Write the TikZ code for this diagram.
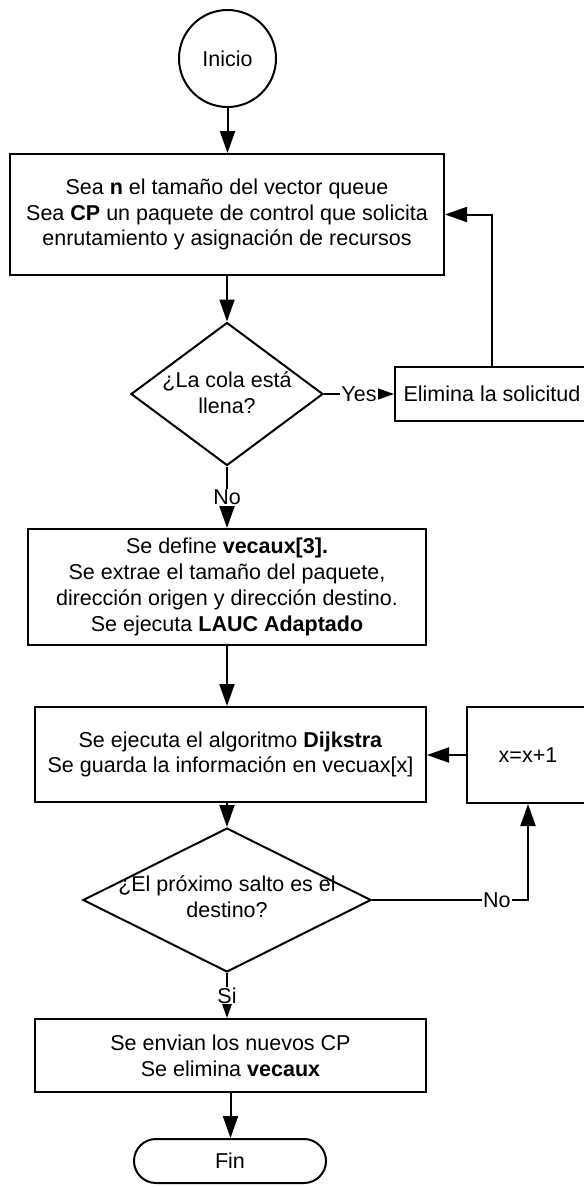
\documentclass[tikz,border=0pt]{standalone}
\usepackage{fontspec}
\setmainfont{Liberation Sans}
\usetikzlibrary{shapes.geometric,shapes.misc,arrows.meta}
\begin{document}
\begin{tikzpicture}[x=1pt,y=-1pt,
  every node/.style={font=\fontsize{21.5}{25.8}\selectfont, text=black},
  blk/.style={draw, line width=2pt, rectangle, inner sep=0pt, align=center},
  dia/.style={draw, line width=2pt, diamond, inner sep=0pt},
  term/.style={draw, line width=2pt, inner sep=0pt},
  conn/.style={line width=2pt, -{Triangle[length=22pt,width=15pt]}},
  lbl/.style={fill=white, inner sep=1pt}]
\useasboundingbox (0,0) rectangle (584,1187);

\node[term, circle, minimum size=97pt] (inicio) at (227.5,58.5) {Inicio};
\node[blk, minimum width=434pt, minimum height=121pt] (box1) at (227,214.5)
  {Sea \textbf{n} el tamaño del vector queue\\Sea \textbf{CP} un paquete de control que solicita\\enrutamiento y asignación de recursos};
\node[dia, minimum width=192pt, minimum height=143pt] (d1) at (227,394) {};
\node[align=center] (d1t) at (227,393) {¿La cola está\\llena?};
\node[blk, minimum width=194pt, minimum height=54pt] (elim) at (492,394) {Elimina la solicitud};
\node[blk, minimum width=398pt, minimum height=116pt] (box2) at (227,587)
  {Se define \textbf{vecaux[3].}\\Se extrae el tamaño del paquete,\\dirección origen y dirección destino.\\Se ejecuta \textbf{LAUC Adaptado}};
\node[blk, minimum width=391pt, minimum height=95pt] (box3) at (230.5,754.5)
  {Se ejecuta el algoritmo \textbf{Dijkstra}\\Se guarda la información en vecuax[x]};
\node[blk, minimum width=122pt, minimum height=96pt] (xbox) at (528,755) {x=x+1};
\node[dia, minimum width=288pt, minimum height=144pt] (d2) at (227,900) {};
\node[align=center] (d2t) at (227,897) {¿El próximo salto es el\\destino?};
\node[blk, minimum width=391pt, minimum height=73pt] (box4) at (230.5,1055.5)
  {Se envian los nuevos CP\\Se elimina \textbf{vecaux}};
\node[term, rounded rectangle, minimum width=192pt, minimum height=44pt] (fin) at (230,1161) {Fin};

\draw[conn] (inicio.south) -- (inicio.south |- box1.north);
\draw[conn] (d1.north |- box1.south) -- (d1.north);
\draw[conn] (d1.east) -- node[lbl]{Yes} (elim.west);
\draw[conn] (elim.north) |- (box1.east);
\draw[conn] (d1.south) -- node[lbl]{No} (d1.south |- box2.north);
\draw[conn] (box2.south) -- (box2.south |- box3.north);
\draw[conn] (d2.north |- box3.south) -- (d2.north);
\draw[conn] (d2.east) -| node[lbl, pos=0.4]{No} (xbox.south);
\draw[conn] (xbox.west) -- (xbox.west -| box3.east);
\draw[conn] (d2.south) -- node[lbl]{Si} (d2.south |- box4.north);
\draw[conn] (box4.south) -- (box4.south |- fin.north);
\end{tikzpicture}
\end{document}
